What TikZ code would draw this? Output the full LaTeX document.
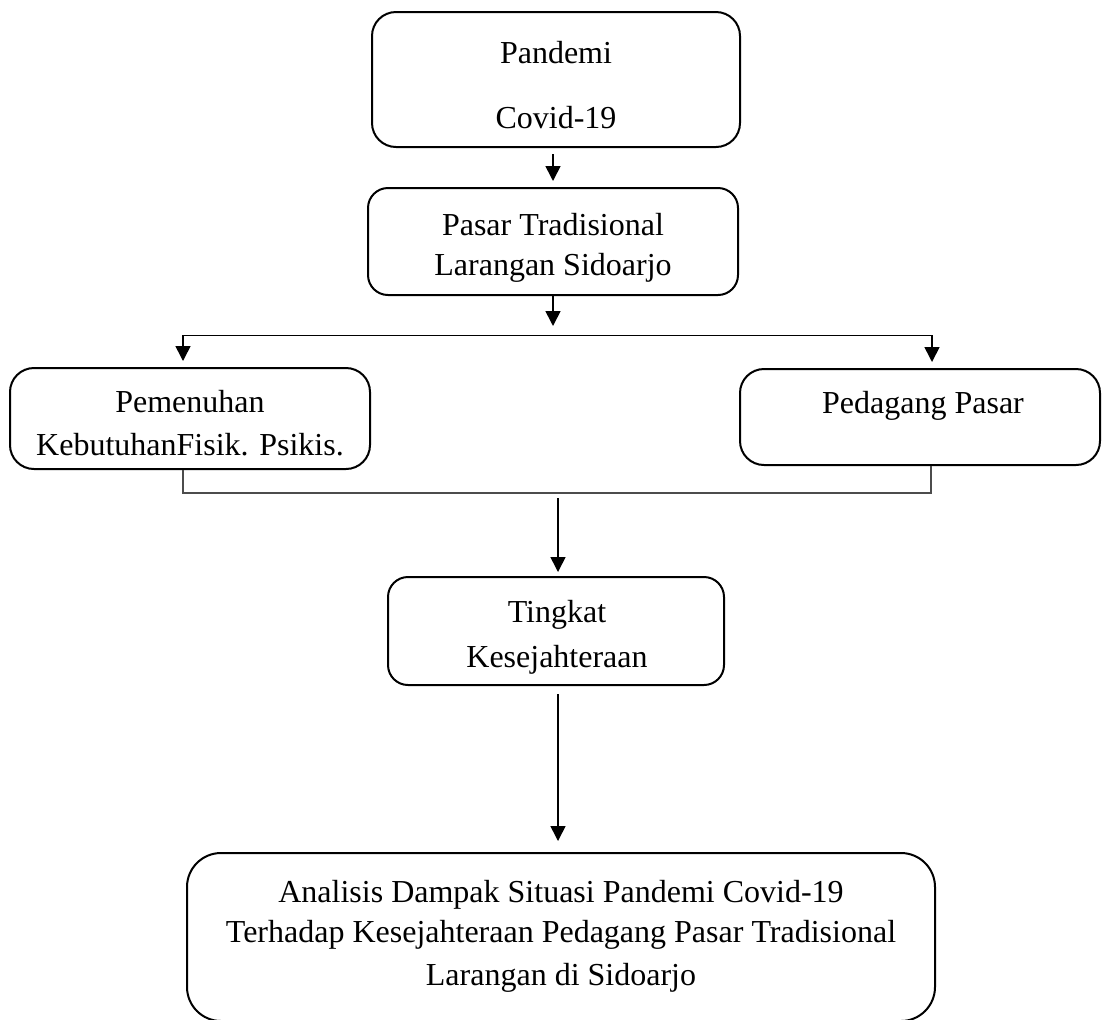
\documentclass[tikz,border=0pt]{standalone}
\usepackage{fontspec}
\setmainfont{Liberation Serif}
\usetikzlibrary{arrows.meta,calc}
\begin{document}
\begin{tikzpicture}[x=0.5pt,y=-0.5pt,
  box/.style={draw,line width=1pt,inner sep=0pt},
  txt/.style={anchor=base,inner sep=0pt,font=\fontsize{16pt}{19pt}\selectfont},
  arr/.style={line width=0.8pt,-{Triangle[length=7.5pt,width=7.5pt]}},
  thinline/.style={line width=0.5pt},
  brk/.style={line width=0.6pt,draw=black!70}]
\useasboundingbox (0,0) rectangle (1102,1019);
\clip (0,0) rectangle (1102,1019);
% boxes
\node[box,minimum width=184pt,minimum height=67.5pt,rounded corners=12pt] (pan) at (556,79.5) {};
\node[box,minimum width=185pt,minimum height=53.5pt,rounded corners=10pt] (pas) at (553,241.5) {};
\node[box,minimum width=180pt,minimum height=50.5pt,rounded corners=12pt] (pem) at (190,418.5) {};
\node[box,minimum width=180pt,minimum height=48pt,rounded corners=12pt] (ped) at (920,417) {};
\node[box,minimum width=168pt,minimum height=54pt,rounded corners=10pt] (tin) at (556,631) {};
\node[box,minimum width=374pt,minimum height=84pt,rounded corners=17pt] (ana) at (561,937) {};
% texts
\node[txt] (t1a) at (556,63) {Pandemi};
\node[txt] (t1b) at (556,128) {Covid-19};
\node[txt] (t2a) at (553,235) {Pasar Tradisional};
\node[txt] (t2b) at (553,275) {Larangan Sidoarjo};
\node[txt] (t3a) at (190,412) {Pemenuhan};
\node[txt] (t3b) at (190,455) {KebutuhanFisik. Psikis.};
\node[txt] (t4) at (923,413) {Pedagang Pasar};
\node[txt] (t5a) at (557,622) {Tingkat};
\node[txt] (t5b) at (557,667) {Kesejahteraan};
\node[txt] (t6a) at (561,902) {Analisis Dampak Situasi Pandemi Covid-19};
\node[txt] (t6b) at (561,942) {Terhadap Kesejahteraan Pedagang Pasar Tradisional};
\node[txt] (t6c) at (561,985) {Larangan di Sidoarjo};
% connector coordinates
\coordinate (sl) at (183,335);
\coordinate (sr) at (932,335);
\coordinate (bl) at (183,493);
\coordinate (br) at (931,493);
\coordinate (mid) at (558,493);
% connectors
\draw[arr,shorten <=3pt,shorten >=3pt] (pan.south -| pas.center) -- (pas.north);
\draw[arr,shorten >=4.5pt] (pas.south) -- (pas.south |- sl);
\draw[thinline] (sl) -- (sr);
\draw[arr,shorten >=3pt] (sl) -- (sl |- pem.north);
\draw[arr,shorten >=3pt] (sr) -- (sr |- ped.north);
\draw[brk] (bl |- pem.south) -- (bl) -- (br) -- (br |- ped.south);
\draw[arr,shorten <=2.5pt,shorten >=2pt] (mid) -- (mid |- tin.north);
\draw[arr,shorten <=4pt,shorten >=5.5pt] (tin.south -| mid) -- (ana.north -| mid);
\end{tikzpicture}
\end{document}
